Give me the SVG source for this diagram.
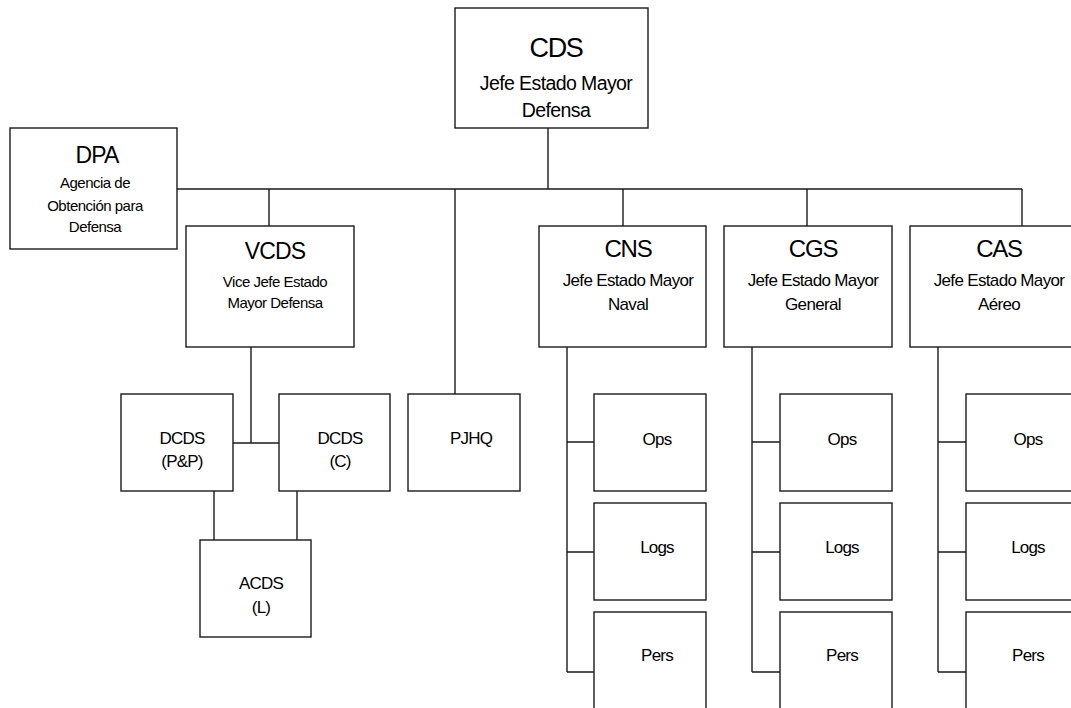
<svg xmlns="http://www.w3.org/2000/svg" width="1071" height="708" viewBox="0 0 1071 708">
<style>
.box{fill:#fff;stroke:#1a1a1a;stroke-width:1.4}
.ln{fill:none;stroke:#1a1a1a;stroke-width:1.4}
text{font-family:"Liberation Sans",Arial,sans-serif;fill:#000;text-anchor:middle}
.t1{font-size:24px;letter-spacing:-1.2px}
.t2{font-size:17px;letter-spacing:-0.65px}
.t3{font-size:15px;letter-spacing:-0.5px}
.s{font-size:17px;letter-spacing:-0.8px}
</style>
<rect width="1071" height="708" fill="#fff"/>
<g id="connectors">
<path class="ln" d="M548,128V189M177,189H1022M269,189V226M455,189V394M623,189V226M807,189V226M1022,189V226"/>
<path class="ln" d="M251,347V443M233,443H279M214,491V540M297,491V540"/>
<path class="ln" d="M567,347V672M567,442H594M567,552H594M567,672H594"/>
<path class="ln" d="M752,347V672M752,442H780M752,552H780M752,672H780"/>
<path class="ln" d="M938,347V672M938,442H966M938,552H966M938,672H966"/>
</g>
<g id="cds">
<rect class="box" x="455" y="8" width="193" height="120"/>
<text x="556" y="57" style="font-size:27px;letter-spacing:-1.3px">CDS</text>
<text x="556" y="90" style="font-size:19.5px;letter-spacing:-0.6px">Jefe Estado Mayor</text>
<text x="556" y="117" style="font-size:19.5px;letter-spacing:-0.6px">Defensa</text>
</g>
<g id="dpa">
<rect class="box" x="10" y="128" width="167" height="121"/>
<text x="97" y="163" style="font-size:23px;letter-spacing:-0.9px">DPA</text>
<text class="t3" x="95" y="188">Agencia de</text>
<text class="t3" x="95" y="211">Obtención para</text>
<text class="t3" x="95" y="232">Defensa</text>
</g>
<g id="vcds">
<rect class="box" x="186" y="226" width="168" height="121"/>
<text x="275" y="259" style="font-size:23px;letter-spacing:-0.9px">VCDS</text>
<text class="t3" x="275" y="287">Vice Jefe Estado</text>
<text class="t3" x="275" y="308">Mayor Defensa</text>
</g>
<g id="dcds-pp">
<rect class="box" x="121" y="394" width="112" height="97"/>
<text class="s" x="182" y="444">DCDS</text>
<text class="s" x="182" y="467">(P&amp;P)</text>
</g>
<g id="dcds-c">
<rect class="box" x="279" y="394" width="111" height="97"/>
<text class="s" x="340" y="444">DCDS</text>
<text class="s" x="340" y="467">(C)</text>
</g>
<g id="acds">
<rect class="box" x="200" y="540" width="111" height="97"/>
<text class="s" x="261" y="589">ACDS</text>
<text class="s" x="261" y="613">(L)</text>
</g>
<g id="pjhq">
<rect class="box" x="408" y="394" width="112" height="97"/>
<text class="s" x="471" y="444">PJHQ</text>
</g>
<g id="cns">
<rect class="box" x="539" y="226" width="167" height="121"/>
<text class="t1" x="628" y="257">CNS</text>
<text class="t2" x="628" y="286">Jefe Estado Mayor</text>
<text class="t2" x="628" y="310">Naval</text>
</g>
<g id="cgs">
<rect class="box" x="724" y="226" width="168" height="121"/>
<text class="t1" x="813" y="257">CGS</text>
<text class="t2" x="813" y="286">Jefe Estado Mayor</text>
<text class="t2" x="813" y="310">General</text>
</g>
<g id="cas">
<rect class="box" x="910" y="226" width="168" height="121"/>
<text class="t1" x="999" y="257">CAS</text>
<text class="t2" x="999" y="286">Jefe Estado Mayor</text>
<text class="t2" x="999" y="310">Aéreo</text>
</g>
<g id="cns-ops"><rect class="box" x="594" y="394" width="112" height="97"/><text class="s" x="657" y="445">Ops</text></g>
<g id="cns-logs"><rect class="box" x="594" y="503" width="112" height="97"/><text class="s" x="657" y="553">Logs</text></g>
<g id="cns-pers"><rect class="box" x="594" y="612" width="112" height="110"/><text class="s" x="657" y="661">Pers</text></g>
<g id="cgs-ops"><rect class="box" x="780" y="394" width="112" height="97"/><text class="s" x="842" y="445">Ops</text></g>
<g id="cgs-logs"><rect class="box" x="780" y="503" width="112" height="97"/><text class="s" x="842" y="553">Logs</text></g>
<g id="cgs-pers"><rect class="box" x="780" y="612" width="112" height="110"/><text class="s" x="842" y="661">Pers</text></g>
<g id="cas-ops"><rect class="box" x="966" y="394" width="112" height="97"/><text class="s" x="1028" y="445">Ops</text></g>
<g id="cas-logs"><rect class="box" x="966" y="503" width="112" height="97"/><text class="s" x="1028" y="553">Logs</text></g>
<g id="cas-pers"><rect class="box" x="966" y="612" width="112" height="110"/><text class="s" x="1028" y="661">Pers</text></g>
</svg>
